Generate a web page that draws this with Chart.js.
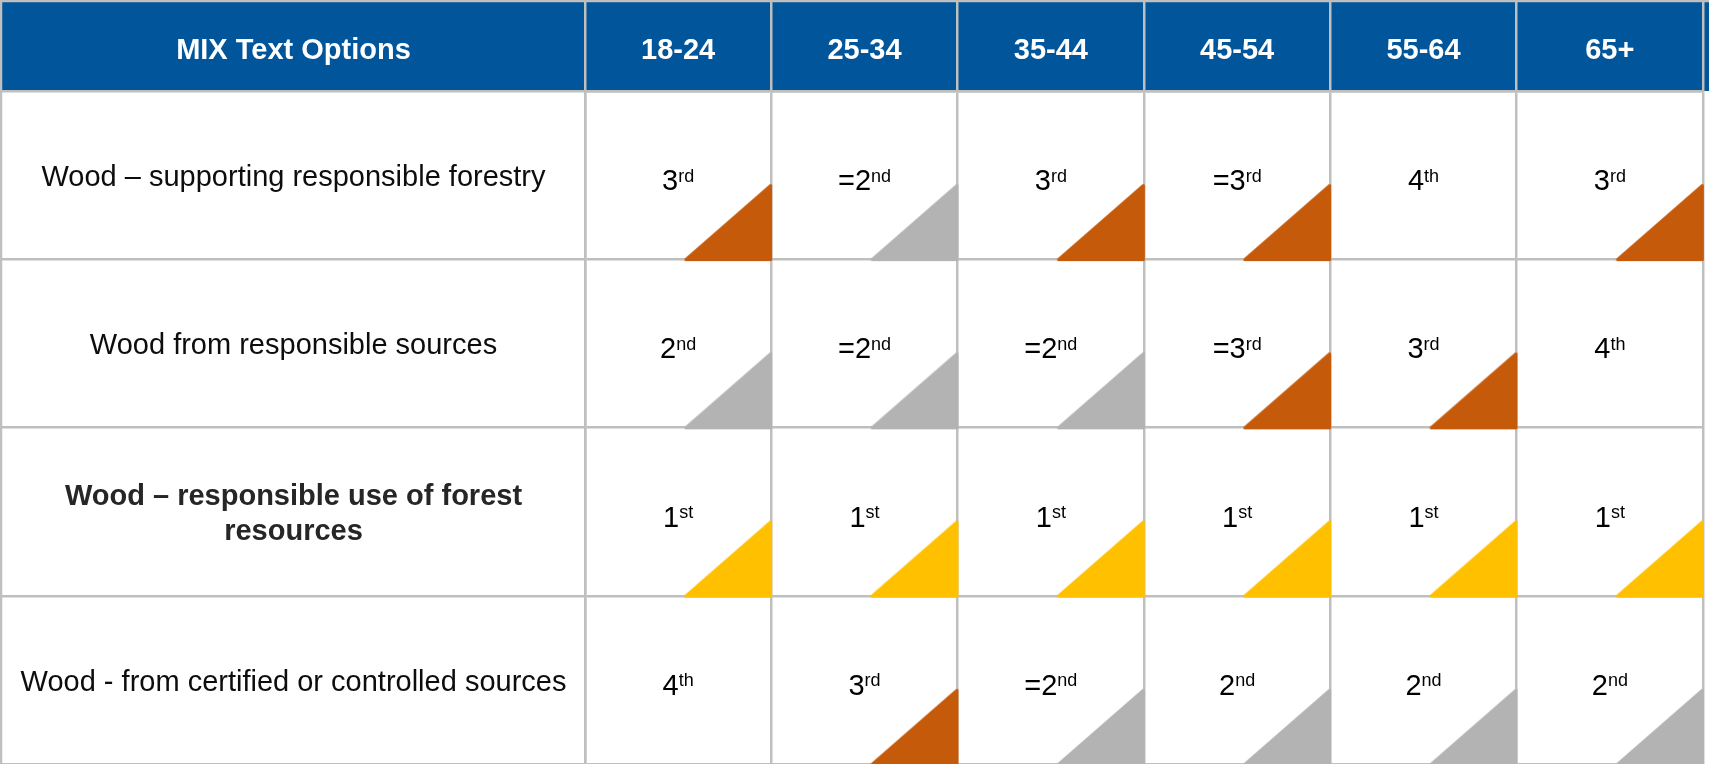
<!DOCTYPE html>
<html>
<head>
<meta charset="utf-8">
<script src="https://cdn.jsdelivr.net/npm/chart.js@4.4.1/dist/chart.umd.min.js"></script>
<style>
html, body { margin: 0; padding: 0; overflow: hidden; background: #ffffff; }
#c { display: block; }
</style>
</head>
<body>
<canvas id="c" width="1709" height="770"></canvas>
<script>
// ---- data ----
const headerTitle = 'MIX Text Options';
const ageGroups = ['18-24', '25-34', '35-44', '45-54', '55-64', '65+'];
const mixOptions = [
  'Wood – supporting responsible forestry',
  'Wood from responsible sources',
  ['Wood – responsible use of forest', 'resources'],
  'Wood - from certified or controlled sources'
];
const highlightedOption = 2;

const rankSupportingForestry   = [3, 2, 3, 3, 4, 3];
const rankResponsibleSources   = [2, 2, 2, 3, 3, 4];
const rankResponsibleUse       = [1, 1, 1, 1, 1, 1];
const rankCertifiedControlled  = [4, 3, 2, 2, 2, 2];

const tiedSupportingForestry   = [false, true, false, true, false, false];
const tiedResponsibleSources   = [false, true, true, true, false, false];
const tiedResponsibleUse       = [false, false, false, false, false, false];
const tiedCertifiedControlled  = [false, false, true, false, false, false];

const ordinalSuffix = { 1: 'st', 2: 'nd', 3: 'rd', 4: 'th' };
const rankColors = { 1: '#FFC000', 2: '#B3B3B3', 3: '#C55A0B', 4: null };

// ---- styling ----
const FAMILY = "'Liberation Sans', Arial, sans-serif";
const HEADER_BLUE = '#01559A';
const GRID = '#BFBFBF';
const GRID_W = 2.5;
const LABEL_COL_W = 585;
const HEADER_H = 91;

const rankRows = [rankSupportingForestry, rankResponsibleSources, rankResponsibleUse, rankCertifiedControlled];
const tieRows = [tiedSupportingForestry, tiedResponsibleSources, tiedResponsibleUse, tiedCertifiedControlled];

function tickFont(i) {
  return i === highlightedOption
    ? { family: FAMILY, size: 29, weight: 'bold', lineHeight: 1.2 }
    : { family: FAMILY, size: 29, weight: 'normal', lineHeight: 1.2 };
}
const mctx = document.createElement('canvas').getContext('2d');
let widest = 0;
mixOptions.forEach((lab, i) => {
  const f = tickFont(i);
  mctx.font = (f.weight ? f.weight + ' ' : '') + f.size + 'px ' + f.family;
  (Array.isArray(lab) ? lab : [lab]).forEach(line => {
    widest = Math.max(widest, mctx.measureText(line).width);
  });
});

const triCache = {};
function triangleImage(chart, color) {
  const xs = chart.scales.x, ys = chart.scales.y;
  const cw = Math.abs(xs.getPixelForValue(1) - xs.getPixelForValue(0));
  const ch = Math.abs(ys.getPixelForValue(1) - ys.getPixelForValue(0));
  const pad = 6;
  const w = Math.round(cw) + 2 * pad, h = Math.round(ch) + 2 * pad;
  const key = color + w + 'x' + h;
  if (triCache[key]) return triCache[key];
  const cv = document.createElement('canvas');
  cv.width = w; cv.height = h;
  const g = cv.getContext('2d');
  const tw = cw * 0.455, th = ch * 0.44;
  const right = pad + Math.round(cw) - 0.5, bottom = pad + Math.round(ch) + 0.5;
  g.beginPath();
  g.moveTo(right - tw, bottom);
  g.lineTo(right, bottom - th);
  g.lineTo(right, bottom);
  g.closePath();
  g.fillStyle = color; g.fill();
  g.lineJoin = 'round'; g.lineWidth = 3; g.strokeStyle = color; g.stroke();
  triCache[key] = cv;
  return cv;
}

const datasets = rankRows.map((ranks, r) => ({
  label: Array.isArray(mixOptions[r]) ? mixOptions[r].join(' ') : mixOptions[r],
  data: ranks.map((rank, c) => ({ x: ageGroups[c], y: mixOptions[r], rank: rank, tied: tieRows[r][c] })),
  clip: false,
  pointRadius: (ctx) => (ctx.raw && rankColors[ctx.raw.rank]) ? 5 : 0,
  pointStyle: (ctx) => {
    if (!ctx.raw || !rankColors[ctx.raw.rank]) return 'circle';
    return triangleImage(ctx.chart, rankColors[ctx.raw.rank]);
  },
  pointBackgroundColor: 'rgba(0,0,0,0)',
  pointBorderColor: 'rgba(0,0,0,0)'
}));

const tablePlugin = {
  id: 'tableDecor',
  beforeDraw(chart) {
    const { ctx, width, chartArea } = chart;
    ctx.save();
    ctx.fillStyle = HEADER_BLUE;
    ctx.fillRect(0, 0, width, chartArea.top);
    ctx.fillStyle = '#ffffff';
    ctx.font = 'bold 29px ' + FAMILY;
    ctx.textAlign = 'center';
    ctx.textBaseline = 'middle';
    ctx.fillText(headerTitle, chartArea.left / 2 + 1, 51);
    ctx.restore();
  },
  afterDatasetsDraw(chart) {
    const ctx = chart.ctx;
    ctx.save();
    const mainFont = '29px ' + FAMILY;
    const supFont = '18px ' + FAMILY;
    chart.data.datasets.forEach((ds, di) => {
      const meta = chart.getDatasetMeta(di);
      meta.data.forEach((pt, i) => {
        const d = ds.data[i];
        const main = (d.tied ? '=' : '') + d.rank;
        const suf = ordinalSuffix[d.rank];
        ctx.font = mainFont; const w1 = ctx.measureText(main).width;
        ctx.font = supFont; const w2 = ctx.measureText(suf).width;
        const x0 = pt.x - (w1 + w2) / 2;
        const base = pt.y + 15;
        ctx.fillStyle = '#000000';
        ctx.textAlign = 'left';
        ctx.textBaseline = 'alphabetic';
        ctx.font = mainFont; ctx.fillText(main, x0, base);
        ctx.font = supFont; ctx.fillText(suf, x0 + w1, base - 8.5);
      });
    });
    ctx.restore();
  },
  afterDraw(chart) {
    const { ctx, width, chartArea } = chart;
    ctx.save();
    ctx.strokeStyle = GRID;
    ctx.lineWidth = GRID_W;
    ctx.beginPath();
    ctx.moveTo(1, chartArea.bottom); ctx.lineTo(1, 1); ctx.lineTo(width, 1);
    ctx.stroke();
    ctx.restore();
  }
};

Chart.defaults.font.family = FAMILY;

new Chart(document.getElementById('c'), {
  type: 'scatter',
  data: { labels: ageGroups, xLabels: ageGroups, yLabels: mixOptions, datasets: datasets },
  options: {
    responsive: false,
    maintainAspectRatio: false,
    animation: false,
    events: [],
    layout: { padding: { left: 0, top: 0, right: 1.5, bottom: 3.5 } },
    plugins: { legend: { display: false }, tooltip: { enabled: false }, title: { display: false } },
    scales: {
      x: {
        type: 'category',
        position: 'top',
        offset: true,
        afterFit: (s) => { s.height = HEADER_H; },
        grid: { offset: true, color: GRID, lineWidth: GRID_W, drawTicks: true, tickLength: HEADER_H, drawOnChartArea: true },
        border: { display: true, color: GRID, width: GRID_W },
        ticks: {
          color: '#ffffff',
          font: { family: FAMILY, size: 29, weight: 'bold', lineHeight: 1.2 },
          padding: -(51 + 29 * 1.2 / 2),
          maxRotation: 0, minRotation: 0, autoSkip: false
        }
      },
      y: {
        type: 'category',
        position: 'left',
        offset: true,
        afterFit: (s) => { s.width = LABEL_COL_W; },
        grid: { offset: true, color: GRID, lineWidth: GRID_W, drawTicks: true, tickLength: LABEL_COL_W, drawOnChartArea: true },
        border: { display: true, color: GRID, width: GRID_W },
        ticks: {
          crossAlign: 'center',
          padding: -(LABEL_COL_W / 2 + 1 + widest / 2),
          labelOffset: 3,
          autoSkip: false,
          color: (ctx) => ctx.index === highlightedOption ? '#262626' : '#0d0d0d',
          font: (ctx) => tickFont(ctx.index)
        }
      }
    }
  },
  plugins: [tablePlugin]
});
</script>
</body>
</html>
